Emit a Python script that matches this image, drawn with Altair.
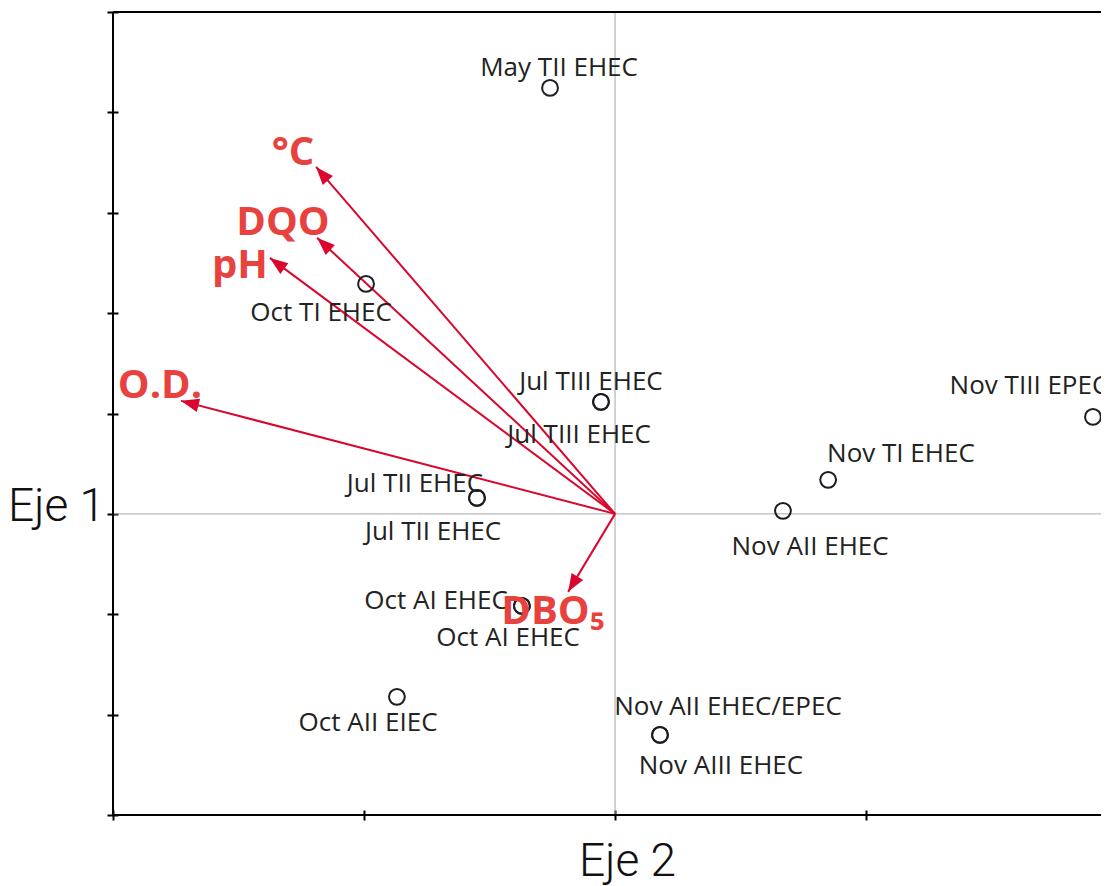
import math
import altair as alt
import pandas as pd

# ---------------- data ----------------
# sample scores (one row per label; some points carry two labels)
sample_labels = ["May TII EHEC", "Oct TI EHEC", "Jul TIII EHEC", "Jul TIII EHEC",
                 "Jul TII EHEC", "Jul TII EHEC", "Oct AI EHEC", "Oct AI EHEC",
                 "Oct AII EIEC", "Nov AII EHEC/EPEC", "Nov AIII EHEC",
                 "Nov AII EHEC", "Nov TI EHEC", "Nov TIII EPEC"]
eje2 = [-0.259, -0.992, -0.056, -0.056, -0.550, -0.550, -0.371, -0.371,
        -0.869, 0.179, 0.179, 0.669, 0.849, 1.904]
eje1 = [4.244, 2.291, 1.116, 1.116, 0.159, 0.159, -0.917, -0.917,
        -1.823, -2.202, -2.202, 0.030, 0.339, 0.966]
# label anchor positions (same units as the axes)
label_x = [-0.223, -1.171, -0.096, -0.143, -0.797, -0.725, -0.713, -0.426,
           -0.984, 0.450, 0.422, 0.777, 1.139, 1.649]
label_y = [4.443, 2.002, 1.315, 0.787, 0.299, -0.179, -0.867, -1.235,
           -2.082, -1.923, -2.511, -0.329, 0.598, 1.275]

# environmental variables (arrows from the origin)
var_names = ["°C", "DQO", "pH", "O.D.", "DBO₅"]
var_x = [-1.191, -1.187, -1.375, -1.729, -0.187]
var_y = [3.457, 2.750, 2.550, 1.126, -0.777]
var_label_x = [-1.283, -1.323, -1.494, -1.813, -0.247]
var_label_y = [3.597, 2.899, 2.471, 1.275, -0.976]

x_domain = [-2.0, 1.936]
y_domain = [-3.0, 5.0]
x_ticks = [-2, -1, 0, 1]
y_ticks = [-3, -2, -1, 0, 1, 2, 3, 4, 5]

W, H = 988, 803
RED_LINE = "#d9072d"
RED_TEXT = "#e8423f"
INK = "#1c1c24"
TITLE_FONT = "Roboto"

# ---------------- tables ----------------
samples = pd.DataFrame({"label": sample_labels, "x": eje2, "y": eje1,
                        "lx": label_x, "ly": label_y})

kx = W / (x_domain[1] - x_domain[0])
ky = H / (y_domain[1] - y_domain[0])
angles = [(math.degrees(math.atan2(dx * kx, dy * ky)) + 360) % 360
          for dx, dy in zip(var_x, var_y)]
arrows = pd.DataFrame({"name": var_names, "x0": [0.0] * len(var_x),
                       "y0": [0.0] * len(var_y), "x": var_x, "y": var_y,
                       "lx": var_label_x, "ly": var_label_y, "angle": angles})

# frame: left edge (vertical) and bottom/top edges (horizontal)
frame_v = pd.DataFrame({"x": [x_domain[0]], "y": [y_domain[0]], "y2": [y_domain[1]]})
frame_h = pd.DataFrame({"y": [y_domain[0], y_domain[1]],
                        "x": [x_domain[0], x_domain[0]],
                        "x2": [x_domain[1], x_domain[1]]})
zero_v = pd.DataFrame({"x": [0.0], "y": [y_domain[0]], "y2": [y_domain[1]]})
zero_h = pd.DataFrame({"y": [0.0], "x": [x_domain[0]], "x2": [x_domain[1]]})

# ---------------- encodings ----------------
xscale = alt.Scale(domain=x_domain, nice=False, zero=False)
yscale = alt.Scale(domain=y_domain, nice=False, zero=False)

x_axis = alt.Axis(values=x_ticks, labels=False, domain=False, grid=False,
                  ticks=True, tickSize=10, tickWidth=2, tickColor="#000",
                  offset=-5, title="Eje 2",
                  titleFont=TITLE_FONT, titleFontSize=46,
                  titleFontWeight=300, titleColor="#111",
                  titleAlign="center", titleBaseline="alphabetic",
                  titleX=514, titleY=65)
y_axis = alt.Axis(values=y_ticks, labels=False, domain=False, grid=False,
                  ticks=True, tickSize=11, tickWidth=2, tickColor="#000",
                  offset=-5, title="Eje 1", titleAngle=0,
                  titleFont=TITLE_FONT, titleFontSize=46,
                  titleFontWeight=300, titleColor="#111",
                  titleAlign="center", titleBaseline="alphabetic",
                  titleX=-62, titleY=508)


def X(field):
    return alt.X(f"{field}:Q", scale=xscale, axis=x_axis)


def Y(field):
    return alt.Y(f"{field}:Q", scale=yscale, axis=y_axis)


zero_v_rule = alt.Chart(zero_v).mark_rule(color="#a8a8a8", strokeWidth=1).encode(
    x=X("x"), y=Y("y"), y2="y2:Q")
zero_h_rule = alt.Chart(zero_h).mark_rule(color="#a8a8a8", strokeWidth=1).encode(
    y=Y("y"), x=X("x"), x2="x2:Q")

frame_v_rule = alt.Chart(frame_v).mark_rule(color="#000", strokeWidth=2).encode(
    x=X("x"), y=Y("y"), y2="y2:Q")
frame_h_rule = alt.Chart(frame_h).mark_rule(color="#000", strokeWidth=2).encode(
    y=Y("y"), x=X("x"), x2="x2:Q")

arrow_lines = alt.Chart(arrows).mark_rule(color=RED_LINE, strokeWidth=2).encode(
    x=X("x0"), y=Y("y0"), x2="x:Q", y2="y:Q")

arrow_heads = alt.Chart(arrows).mark_point(
    shape="M0,0L-0.75,2L0.75,2Z", filled=True, color=RED_LINE,
    size=324, opacity=1, strokeWidth=0).encode(
    x=X("x"), y=Y("y"),
    angle=alt.Angle("angle:Q", scale=None))

points = alt.Chart(samples).mark_point(
    shape="circle", filled=False, color=INK, size=250, strokeWidth=2,
    opacity=1).encode(x=X("x"), y=Y("y"))

point_labels = alt.Chart(samples).mark_text(
    font="Open Sans", fontSize=26, fontWeight="normal", color="#222",
    align="center", baseline="middle").encode(
    x=X("lx"), y=Y("ly"), text="label:N")

var_labels = alt.Chart(arrows).mark_text(
    font="Open Sans", fontSize=40, fontWeight="bold", color=RED_TEXT,
    align="center", baseline="middle").encode(
    x=X("lx"), y=Y("ly"), text="name:N")

chart = alt.layer(
    zero_v_rule, zero_h_rule, frame_v_rule, frame_h_rule, arrow_lines,
    arrow_heads, points, point_labels, var_labels
).properties(
    width=W, height=H,
    autosize=alt.AutoSizeParams(type="none"),
    padding={"left": 105, "top": 4, "right": 0, "bottom": 70},
).configure_view(strokeWidth=0, stroke="transparent")

chart.save("out.html", embed_options={"renderer": "svg", "actions": False})
